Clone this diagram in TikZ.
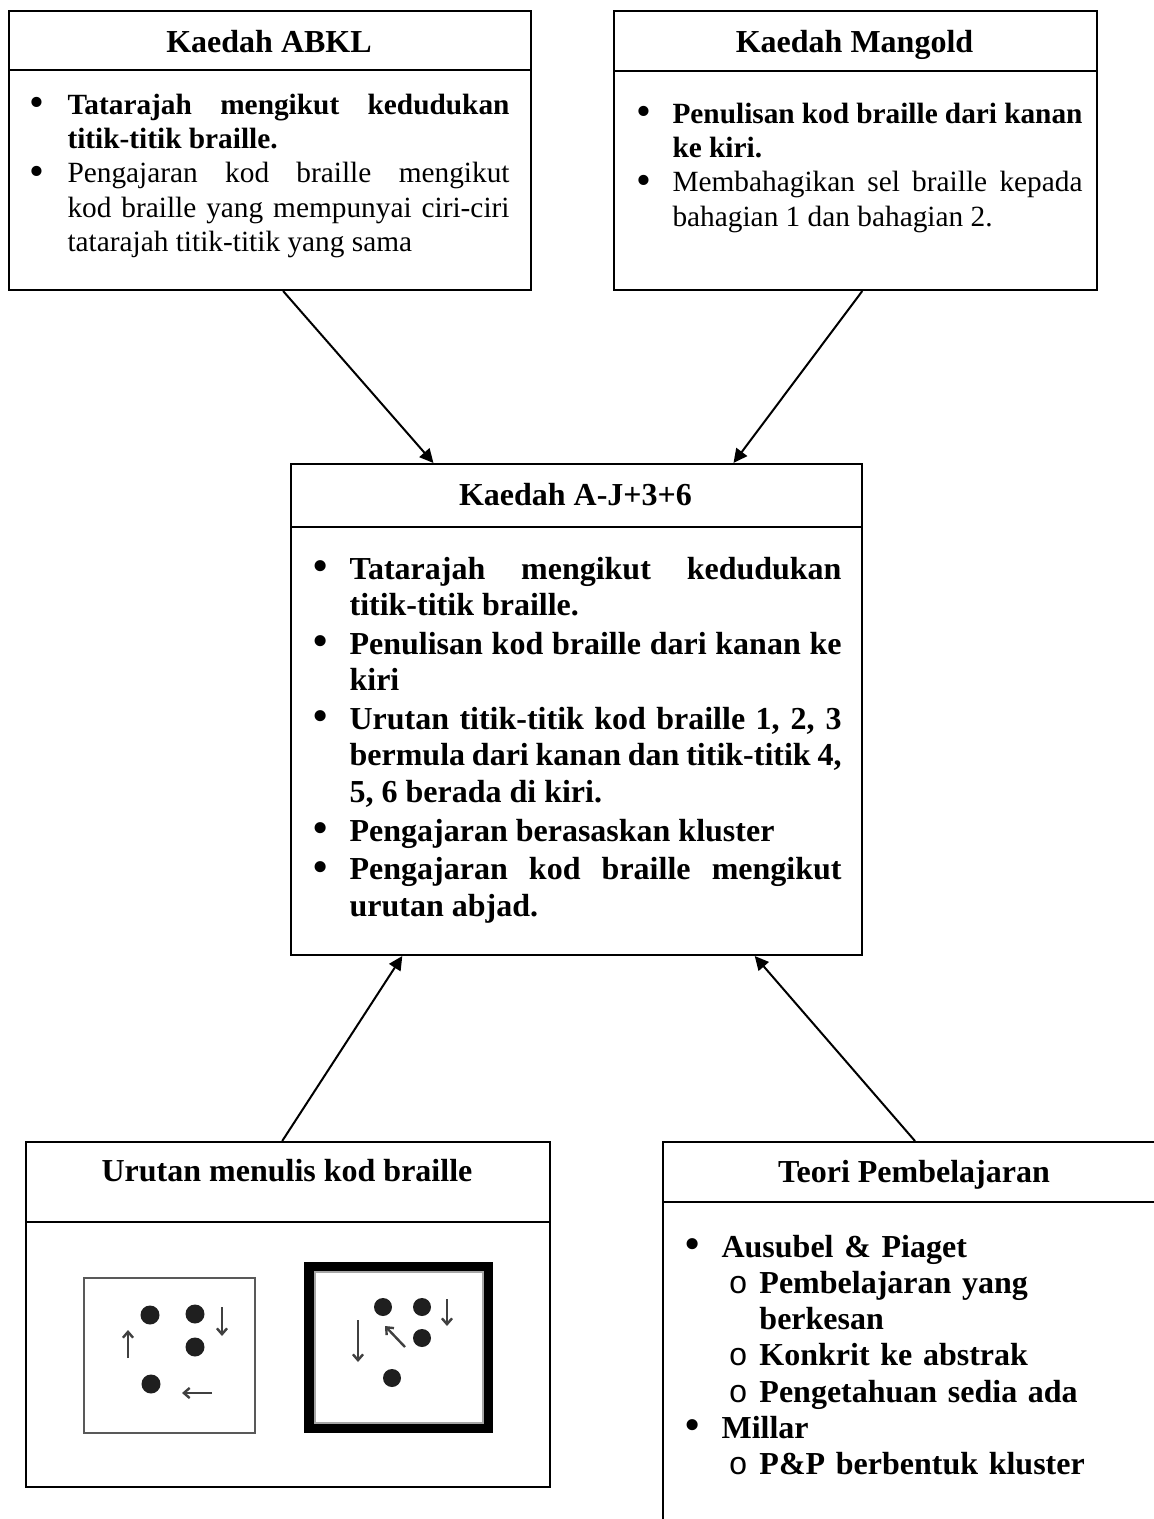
\documentclass[tikz,border=0pt]{standalone}
\usepackage{fontspec}
\setmainfont{Liberation Serif}
\newfontfamily\courier{Liberation Mono}
\usetikzlibrary{arrows.meta,calc}

% no hyphenation inside the text blocks
\newcommand\nohyph{\hyphenpenalty=10000\relax\exhyphenpenalty=10000\relax}
% list marker drawn as a slightly enlarged bullet
\newcommand\bmark{\mdseries\raisebox{-0.08em}{\scalebox{1.45}{\textbullet}}}
% bullet paragraph: #1 = distance from bullet to text, #2 = text
\newcommand\bpar[2]{\noindent\leftskip=#1\relax\llap{\hbox to #1{\bmark\hfil}}#2\par}
% second-level paragraph: #1 = text indent, #2 = marker-to-text distance, #3 = text
\newcommand\opar[3]{\noindent\leftskip=#1\relax\llap{\hbox to #2{{\courier\mdseries o}\hfil}}#3\par}

\begin{document}
\begin{tikzpicture}[x=0.375pt,y=-0.375pt,
  box/.style={draw,line width=0.75pt,rectangle,inner sep=0pt,anchor=north west},
  rule/.style={line width=0.75pt},
  title/.style={font=\fontsize{12}{14}\selectfont\bfseries,anchor=base,inner sep=0pt},
  conn/.style={line width=0.75pt,-{Triangle[length=5.2pt,width=5pt]}},
  body/.style={anchor=base west,inner sep=0pt},
  brldot/.style={fill=black!88},
  pen/.style={draw=black!75,line width=0.9pt,-{Straight Barb[length=2.2pt,width=3.8pt]}},
]
\fill[white] (0,0) rectangle (1154,1519);
\useasboundingbox (0,0) rectangle (1154,1519);
\clip (0,0) rectangle (1154,1519);

% ---- boxes ----
\node[box,minimum width=195.75pt,minimum height=104.625pt] (abkl) at (8,10) {};
\draw[rule] (8,70) -- (530,70);
\node[box,minimum width=181.125pt,minimum height=104.625pt] (mangold) at (613,10) {};
\draw[rule] (613,71) -- (1096,71);
\node[box,minimum width=214.125pt,minimum height=184.125pt] (mid) at (290,463) {};
\draw[rule] (290,527) -- (861,527);
\node[box,minimum width=196.5pt,minimum height=129.375pt] (urutan) at (25,1141) {};
\draw[rule] (25,1222) -- (549,1222);
\node[box,minimum width=189pt,minimum height=149.625pt] (teori) at (662,1141) {};
\draw[rule] (662,1202) -- (1166,1202);

% ---- titles ----
\node[title] (tabkl) at (269,52) {Kaedah ABKL};
\node[title] (tmangold) at (854.5,52) {Kaedah Mangold};
\node[title] (tmid) at (575.5,505) {Kaedah A-J+3+6};
\node[title] (turutan) at (287,1181) {Urutan menulis kod braille};
\node[title] (tteori) at (914,1182) {Teori Pembelajaran};

% ---- body texts ----
\node[body,text width=180pt,align=justify,font=\fontsize{11}{12.9}\selectfont] (babkl) at (29,114) {\nohyph
  \bpar{14.25pt}{{\bfseries Tatarajah mengikut kedudukan titik-titik braille.}}%
  \bpar{14.25pt}{Pengajaran kod braille mengikut kod braille yang mempunyai ciri-ciri tatarajah titik-titik yang sama}};

\node[body,text width=167.25pt,align=justify,font=\fontsize{11}{12.9}\selectfont] (bmangold) at (636,123) {\nohyph
  \bpar{13.5pt}{{\bfseries Penulisan kod braille dari kanan ke kiri.}}%
  \bpar{13.5pt}{Membahagikan sel braille kepada bahagian 1 dan bahagian 2.}};

\node[body,text width=198.4pt,align=justify,font=\fontsize{12}{13.7}\selectfont\bfseries] (bmid) at (312,579) {\nohyph\parskip=0.8pt\relax
  \bpar{13.9pt}{Tatarajah mengikut kedudukan titik-titik braille.}%
  \bpar{13.9pt}{Penulisan kod braille dari kanan ke kiri}%
  \bpar{13.9pt}{Urutan titik-titik kod braille 1, 2, 3 bermula dari kanan dan titik-titik 4, 5, 6 berada di kiri.}%
  \bpar{13.9pt}{Pengajaran berasaskan kluster}%
  \bpar{13.9pt}{Pengajaran kod braille mengikut urutan abjad.}};

\node[body,text width=167.25pt,align=left,font=\fontsize{12}{13.6}\selectfont\bfseries] (bteori) at (684,1257) {\nohyph
  \bpar{13.9pt}{Ausubel \& Piaget}%
  \opar{28.1pt}{11.6pt}{Pembelajaran yang berkesan}%
  \opar{28.1pt}{11.6pt}{Konkrit ke abstrak}%
  \opar{28.1pt}{11.6pt}{Pengetahuan sedia ada}%
  \bpar{13.9pt}{Millar}%
  \opar{28.1pt}{11.6pt}{P\&P berbentuk kluster}};

% ---- braille writing order, first cell ----
\draw[draw=black!65,line width=0.8pt] (84,1278) rectangle (255,1433);
\fill[brldot] (150,1315) circle[radius=9.5];
\fill[brldot] (195,1314) circle[radius=9.5];
\fill[brldot] (195,1347) circle[radius=9.5];
\fill[brldot] (151,1384) circle[radius=9.5];
\draw[pen] (128,1358) -- (128,1330);
\draw[pen] (222,1307) -- (222,1336);
\draw[pen] (212,1393) -- (182,1393);

% ---- braille writing order, second cell ----
\fill[black] (304,1262) rectangle (493,1433);
\fill[white] (314,1271) rectangle (484,1424);
\draw[black!35,line width=0.8pt] (315,1272) rectangle (483,1423);
\fill[brldot] (383,1307) circle[radius=9];
\fill[brldot] (422,1307) circle[radius=9];
\fill[brldot] (422,1338) circle[radius=9];
\fill[brldot] (392,1378) circle[radius=9];
\draw[pen] (447,1299) -- (447,1326);
\draw[pen] (358,1320) -- (358,1362);
\draw[pen] (405,1347) -- (385,1326);

% ---- connectors ----
\draw[conn] ($(abkl.south west)!0.525!(abkl.south east)$) -- ($(mid.north west)!0.2504!(mid.north east)$);
\draw[conn] ($(mangold.south west)!0.514!(mangold.south east)$) -- ($(mid.north west)!0.774!(mid.north east)$);
\draw[conn] ($(urutan.north west)!0.489!(urutan.north east)$) -- ($(mid.south west)!0.196!(mid.south east)$);
\draw[conn] (teori.north) -- ($(mid.south west)!0.811!(mid.south east)$);
\end{tikzpicture}
\end{document}
